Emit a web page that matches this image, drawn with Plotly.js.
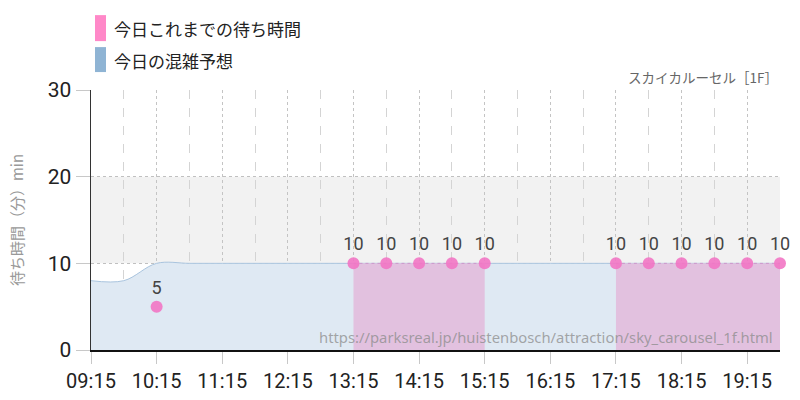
<!DOCTYPE html>
<html>
<head>
<meta charset="utf-8">
<script src="https://cdn.plot.ly/plotly-3.0.1.min.js"></script>
<style>
  html, body { margin: 0; padding: 0; background: #fff; }
  #chart { width: 800px; height: 400px; }
</style>
</head>
<body>
<div id="chart"></div>
<script>
// 30 minute slots through the day
var times = ['09:15', '09:45', '10:15', '10:45', '11:15', '11:45', '12:15', '12:45',
             '13:15', '13:45', '14:15', '14:45', '15:15', '15:45', '16:15', '16:45',
             '17:15', '17:45', '18:15', '18:45', '19:15', '19:45'];
// today's observed waits (null = no data)
var waitActual = [null, null, 5, null, null, null, null, null,
                  10, 10, 10, 10, 10, null, null, null,
                  10, 10, 10, 10, 10, 10];
// today's congestion forecast
var waitForecast = [8, 8, 10, 10, 10, 10, 10, 10,
                    10, 10, 10, 10, 10, 10, 10, 10,
                    10, 10, 10, 10, 10, 10];
var tickLabels = ['09:15', '10:15', '11:15', '12:15', '13:15', '14:15', '15:15', '16:15', '17:15', '18:15', '19:15'];

var day = '2024-01-01 ';
var xs = times.map(function(t) { return day + t; });
var tickVals = tickLabels.map(function(t) { return day + t; });
var halfVals = times.filter(function(t) { return tickLabels.indexOf(t) < 0; })
                    .map(function(t) { return day + t; });

var numFont = 'Roboto, sans-serif';
var jpFont = 'Noto Sans CJK JP, Noto Sans, sans-serif';

var traces = [];
traces.push({
    x: xs,
    y: waitForecast,
    type: 'scatter',
    mode: 'lines',
    line: {color: '#a9c4de', width: 1, shape: 'spline'},
    fill: 'tozeroy',
    fillcolor: '#dfe9f3',
    hoverinfo: 'skip'
});

// one filled area per unbroken run of observations
var runX = [], runY = [];
function flushRun() {
    if (runX.length > 1) {
        traces.push({
            x: runX, y: runY,
            type: 'scatter', mode: 'lines',
            line: {color: 'rgba(200,120,190,0.6)', width: 1, dash: 'dot'},
            fill: 'tozeroy', fillcolor: '#e2c1df',
            hoverinfo: 'skip'
        });
    }
    runX = []; runY = [];
}
for (var i = 0; i < times.length; i++) {
    if (waitActual[i] == null) { flushRun(); continue; }
    runX.push(xs[i]); runY.push(waitActual[i]);
}
flushRun();

traces.push({
    x: xs,
    y: waitActual,
    type: 'scatter',
    mode: 'markers+text',
    marker: {color: 'rgba(242,118,196,0.9)', size: 12},
    text: waitActual.map(function(v) { return v == null ? '' : String(v); }),
    textposition: 'top center',
    textfont: {family: numFont, size: 18, color: '#444'},
    cliponaxis: false
});

var layout = {
    width: 800,
    height: 400,
    margin: {l: 91, r: 20, t: 90, b: 50},
    paper_bgcolor: '#fff',
    plot_bgcolor: '#fff',
    showlegend: false,
    font: {family: jpFont, color: '#333'},
    xaxis: {
        type: 'date',
        range: [day + '09:15', day + '19:45'],
        tickvals: tickVals,
        ticktext: tickLabels,
        tickfont: {family: numFont, size: 20, color: '#222'},
        ticks: 'outside',
        ticklen: 12,
        tickcolor: '#c8c8c8',
        showline: true,
        linecolor: '#111',
        linewidth: 2,
        showgrid: true,
        gridcolor: '#c4c4c4',
        griddash: 'dot',
        minor: {tickvals: halfVals, showgrid: true, gridcolor: '#d4d4d4', griddash: 'dash', ticks: ''},
        zeroline: false,
        fixedrange: true
    },
    yaxis: {
        range: [0, 30],
        tickvals: [0, 10, 20, 30],
        tickfont: {family: numFont, size: 21, color: '#222'},
        ticks: 'outside',
        ticklen: 14,
        tickcolor: '#c8c8c8',
        showline: true,
        linecolor: '#333',
        linewidth: 1.5,
        showgrid: true,
        gridcolor: '#c0c0c0',
        griddash: 'dot',
        zeroline: false,
        title: {text: '待ち時間（分）min', font: {family: jpFont, size: 15, color: '#999'}, standoff: 20},
        fixedrange: true
    },
    shapes: [
        // light band between 10 and 20 min
        {type: 'rect', xref: 'paper', yref: 'y', x0: 0, x1: 1, y0: 10, y1: 20,
         fillcolor: '#f2f2f2', line: {width: 0}, layer: 'below'},
        // legend swatches
        {type: 'rect', xref: 'paper', yref: 'paper', x0: 0.0058, x1: 0.0218, y0: 1.188, y1: 1.288,
         fillcolor: '#ff88c8', line: {width: 0}},
        {type: 'rect', xref: 'paper', yref: 'paper', x0: 0.0058, x1: 0.0218, y0: 1.069, y1: 1.165,
         fillcolor: '#8fb4d4', line: {width: 0}}
    ],
    annotations: [
        {xref: 'paper', yref: 'paper', x: 0.0305, y: 1.238, xanchor: 'left', yanchor: 'middle',
         text: '今日これまでの待ち時間', showarrow: false, font: {family: jpFont, size: 17, color: '#222'}},
        {xref: 'paper', yref: 'paper', x: 0.0305, y: 1.115, xanchor: 'left', yanchor: 'middle',
         text: '今日の混雑予想', showarrow: false, font: {family: jpFont, size: 17, color: '#222'}},
        {xref: 'paper', yref: 'paper', x: 1.0, y: 1.05, xanchor: 'right', yanchor: 'middle',
         text: 'スカイカルーセル［1F］', showarrow: false, font: {family: jpFont, size: 13.5, color: '#666'}},
        {xref: 'paper', yref: 'paper', x: 0.993, y: 0.05, xanchor: 'right', yanchor: 'middle',
         text: 'https://parksreal.jp/huistenbosch/attraction/sky_carousel_1f.html', showarrow: false,
         font: {family: 'Noto Sans, sans-serif', size: 14.8, color: 'rgba(140,140,140,0.75)'}}
    ]
};

Plotly.newPlot('chart', traces, layout, {displayModeBar: false, staticPlot: true});
</script>
</body>
</html>
